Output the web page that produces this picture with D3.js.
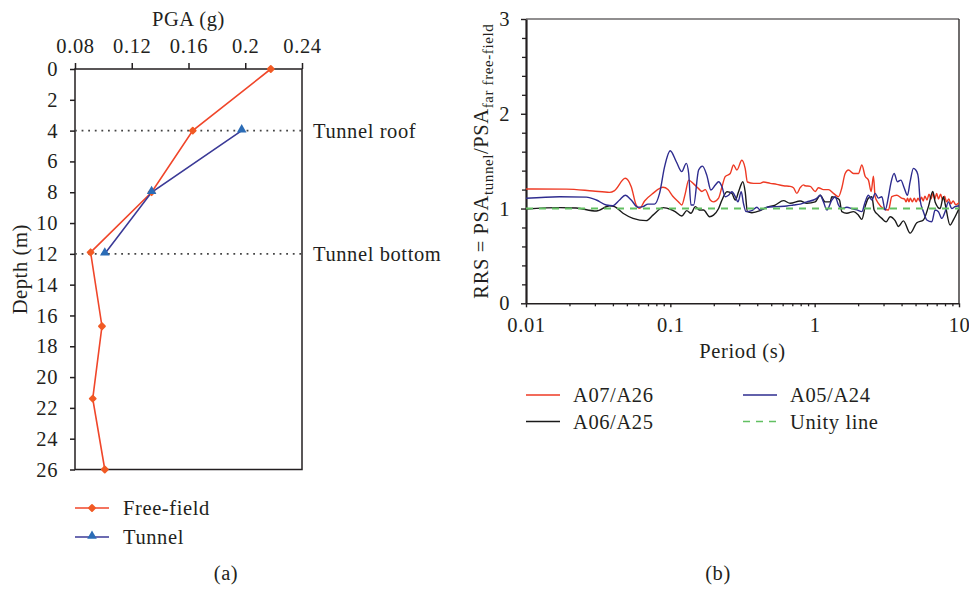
<!DOCTYPE html>
<html>
<head>
<meta charset="utf-8">
<script src="https://cdn.jsdelivr.net/npm/d3@7"></script>
<style>
  html, body { margin: 0; padding: 0; background: #ffffff; }
  svg { display: block; }
  text { font-family: "Liberation Serif", "Times New Roman", serif; fill: #231f20; letter-spacing: 0.6px; }
</style>
</head>
<body>
<svg id="chart" width="969" height="589"></svg>
<script>
// ---------- (a) PGA profile with depth ----------
const pgaTicks = [0.08, 0.12, 0.16, 0.2, 0.24];
const depthTicks = [0, 2, 4, 6, 8, 10, 12, 14, 16, 18, 20, 22, 24, 26];
const depthFree = [0, 4, 8, 11.9, 16.7, 21.4, 26];
const pgaFree = [0.218, 0.163, 0.134, 0.091, 0.099, 0.0925, 0.101];
const depthTunnel = [4, 8, 12];
const pgaTunnel = [0.1975, 0.134, 0.101];
const tunnelLevels = [
  { depth: 4, label: "Tunnel roof" },
  { depth: 12, label: "Tunnel bottom" }
];

// ---------- (b) response spectra ratios, [period (s), RRS] ----------
const periodTicks = [0.01, 0.1, 1, 10];
const rrsTicks = [0, 1, 2, 3];
const rrsA07 = [
  [0.01,1.206],[0.019,1.205],[0.0291,1.185],[0.0379,1.171],[0.0411,1.19],[0.0487,1.319],
  [0.0536,1.23],[0.058,1.037],[0.0612,1.002],[0.0663,1.08],[0.0758,1.16],[0.0889,1.224],
  [0.0963,1.2],[0.104,1.13],[0.114,1.07],[0.120,1.037],[0.127,1.16],[0.134,1.30],
  [0.145,1.26],[0.157,1.21],[0.1655,1.18],[0.1745,1.20],[0.189,1.09],[0.199,1.07],
  [0.216,1.11],[0.228,1.23],[0.240,1.336],[0.260,1.37],[0.274,1.459],[0.289,1.406],
  [0.313,1.51],[0.330,1.424],[0.342,1.28],[0.377,1.266],[0.419,1.266],[0.442,1.28],
  [0.492,1.266],[0.547,1.255],[0.608,1.24],[0.677,1.234],[0.713,1.22],[0.753,1.16],
  [0.794,1.22],[0.836,1.25],[0.860,1.24],[0.931,1.234],[1.008,1.18],[1.062,1.22],
  [1.151,1.20],[1.246,1.20],[1.350,1.16],[1.462,1.125],[1.543,1.22],[1.626,1.37],
  [1.714,1.406],[1.857,1.37],[2.011,1.37],[2.123,1.459],[2.237,1.34],[2.358,1.30],
  [2.462,1.18],[2.554,1.34],[2.624,1.125],[2.765,1.055],[2.996,1.0],[3.245,0.985],
  [3.425,1.125],[3.709,1.14],[4.0,1.11],[4.2,1.10],[4.3,1.07],[4.4,1.11],[4.5,1.07],
  [4.6,1.11],[4.75,1.07],[4.9,1.11],[5.05,1.07],[5.2,1.11],[5.35,1.08],[5.5,1.12],
  [5.65,1.08],[5.8,1.13],[6.0,1.09],[6.2,1.15],[6.4,1.10],[6.6,1.16],[6.8,1.10],
  [7.0,1.16],[7.2,1.10],[7.45,1.15],[7.7,1.09],[7.95,1.13],[8.2,1.07],[8.5,1.10],
  [8.8,1.05],[9.1,1.08],[9.5,1.04],[10,1.06]
];
const rrsA05 = [
  [0.01,1.108],[0.0171,1.125],[0.0262,1.12],[0.0307,1.09],[0.036,1.037],[0.040,1.03],
  [0.0445,1.09],[0.0487,1.14],[0.0536,1.09],[0.0596,1.013],[0.0646,1.02],[0.070,1.047],
  [0.0777,1.047],[0.0842,1.16],[0.0912,1.44],[0.0998,1.61],[0.110,1.494],[0.120,1.389],
  [0.129,1.477],[0.134,1.37],[0.139,1.037],[0.145,1.037],[0.157,1.406],[0.167,1.448],
  [0.179,1.35],[0.191,1.195],[0.205,1.248],[0.216,1.283],[0.228,1.23],[0.240,1.125],
  [0.253,1.14],[0.267,1.177],[0.282,1.125],[0.294,1.07],[0.310,1.177],[0.321,1.055],
  [0.335,0.967],[0.367,0.978],[0.398,1.013],[0.419,0.985],[0.467,1.013],[0.547,1.02],
  [0.642,1.027],[0.713,1.037],[0.794,1.047],[0.883,1.07],[0.981,1.09],[1.036,1.11],
  [1.092,1.14],[1.151,1.07],[1.215,0.985],[1.315,1.09],[1.387,1.125],[1.462,1.037],
  [1.543,1.0],[1.671,1.013],[1.810,1.0],[1.960,0.985],[2.123,0.967],[2.237,1.07],
  [2.358,1.14],[2.489,1.09],[2.624,1.16],[2.765,1.11],[2.920,1.125],[3.078,0.985],
  [3.245,1.125],[3.371,1.266],[3.553,1.37],[3.745,1.283],[3.954,1.30],[4.167,1.22],
  [4.392,1.14],[4.585,1.283],[4.833,1.424],[5.103,1.389],[5.234,1.32],[5.378,1.09],
  [5.668,0.967],[5.984,0.879],[6.481,0.86],[6.832,0.985],[7.201,0.967],[7.602,0.896],
  [8.013,0.967],[8.446,1.07],[8.917,1.0],[9.397,1.02],[10,1.03]
];
const rrsA06 = [
  [0.01,0.995],[0.0171,1.01],[0.0223,1.005],[0.0307,0.974],[0.0379,1.03],[0.0411,1.02],
  [0.047,0.95],[0.0551,0.897],[0.0681,0.872],[0.0758,0.93],[0.0889,1.01],[0.101,0.99],
  [0.108,0.967],[0.120,0.921],[0.130,0.978],[0.139,0.95],[0.149,1.02],[0.159,0.985],
  [0.170,0.985],[0.187,0.914],[0.199,0.93],[0.216,1.0],[0.228,1.09],[0.247,1.177],
  [0.267,1.16],[0.282,1.09],[0.297,1.177],[0.318,1.283],[0.330,1.177],[0.342,0.967],
  [0.367,0.956],[0.419,0.978],[0.467,1.013],[0.533,1.037],[0.608,1.083],[0.677,1.055],
  [0.794,1.08],[0.883,1.055],[1.008,1.07],[1.092,1.14],[1.182,1.07],[1.280,1.07],
  [1.315,1.125],[1.425,1.11],[1.485,1.09],[1.543,0.967],[1.671,0.95],[1.857,0.967],
  [2.011,0.93],[2.123,0.886],[2.237,1.02],[2.358,1.11],[2.489,1.125],[2.582,0.985],
  [2.765,0.93],[2.920,0.896],[3.128,0.86],[3.334,0.914],[3.610,0.872],[3.805,0.81],
  [4.121,0.87],[4.585,0.74],[5.103,0.85],[5.668,0.88],[6.139,1.02],[6.585,1.18],
  [6.832,1.07],[7.399,1.0],[7.798,1.125],[8.013,1.05],[8.678,0.826],[9.146,0.88],
  [9.656,0.95],[10,1.0]
];
const unityLevel = 1;

const spectraSeries = [
  { name: "A07/A26", data: rrsA07, color: "#ee3a24" },
  { name: "A06/A25", data: rrsA06, color: "#1a1a1a" },
  { name: "A05/A24", data: rrsA05, color: "#2e2c8f" }
];

const svg = d3.select("#chart");
const FONT = 20.5;
const FAMILY = '"Liberation Serif", "Times New Roman", serif';

// =====================================================================
// Panel (a)
// =====================================================================
const xL = d3.scaleLinear().domain([0.08, 0.24]).range([75, 302]);
const yL = d3.scaleLinear().domain([0, 26]).range([69, 469.5]);
const gA = svg.append("g");

// top PGA axis
const topAxis = gA.append("g")
  .attr("transform", `translate(0,${yL(0)})`)
  .call(d3.axisTop(xL).tickValues(pgaTicks).tickSize(6).tickSizeOuter(0)
    .tickPadding(10).tickFormat(d => String(d)));
// left depth axis
const leftAxis = gA.append("g")
  .attr("transform", `translate(${xL(0.08)},0)`)
  .call(d3.axisLeft(yL).tickValues(depthTicks).tickSize(5).tickSizeOuter(0)
    .tickPadding(12).tickFormat(d => String(d)));
[topAxis, leftAxis].forEach(a => {
  a.select(".domain").remove();
  a.selectAll("line").attr("stroke", "#231f20").attr("stroke-width", 1.5);
  a.selectAll("text").style("font-size", FONT + "px").attr("fill", "#231f20")
    .style("font-family", FAMILY);
});

// frame
gA.append("rect")
  .attr("x", xL(0.08)).attr("y", yL(0))
  .attr("width", xL(0.24) - xL(0.08)).attr("height", yL(26) - yL(0))
  .attr("fill", "none").attr("stroke", "#231f20").attr("stroke-width", 1.5);

// tunnel roof / bottom guides
tunnelLevels.forEach(t => {
  gA.append("line")
    .attr("x1", xL(0.08)).attr("x2", xL(0.24))
    .attr("y1", yL(t.depth)).attr("y2", yL(t.depth))
    .attr("stroke", "#444").attr("stroke-width", 1.8)
    .attr("stroke-dasharray", "1.8,4.8");
  gA.append("text")
    .attr("x", 313).attr("y", yL(t.depth) + 7)
    .style("font-size", FONT + "px").text(t.label);
});

const lineL = d3.line().x(d => xL(d[0])).y(d => yL(d[1]));
const freeData = pgaFree.map((p, i) => [p, depthFree[i]]);
const tunnelData = pgaTunnel.map((p, i) => [p, depthTunnel[i]]);
const FREE_LINE = "#f0462a", FREE_MARK = "#f15a24";
const TUN_LINE = "#3b3a97", TUN_MARK = "#2b6cb6";
// free-field marker: small rounded diamond (square turned 45 degrees)
const diamond = d3.symbol().type(d3.symbolSquare).size(18);
const triangle = d3.symbol().type(d3.symbolTriangle).size(40);

gA.append("path").datum(freeData).attr("d", lineL)
  .attr("fill", "none").attr("stroke", FREE_LINE).attr("stroke-width", 1.6);
gA.append("path").datum(tunnelData).attr("d", lineL)
  .attr("fill", "none").attr("stroke", TUN_LINE).attr("stroke-width", 1.6);
gA.selectAll(".mf").data(freeData).join("path").attr("class", "mf")
  .attr("d", diamond).attr("fill", FREE_MARK)
  .attr("stroke", FREE_MARK).attr("stroke-width", 1.8).attr("stroke-linejoin", "round")
  .attr("transform", d => `translate(${xL(d[0])},${yL(d[1])}) rotate(45)`);
gA.selectAll(".mt").data(tunnelData).join("path").attr("class", "mt")
  .attr("d", triangle).attr("fill", TUN_MARK)
  .attr("transform", d => `translate(${xL(d[0])},${yL(d[1]) - 1})`);

// axis titles
gA.append("text").attr("x", (xL(0.08) + xL(0.24)) / 2).attr("y", 26)
  .attr("text-anchor", "middle").style("font-size", FONT + "px").text("PGA (g)");
gA.append("text")
  .attr("transform", `translate(27,${(yL(0) + yL(26)) / 2}) rotate(-90)`)
  .attr("text-anchor", "middle").style("font-size", FONT + "px").text("Depth (m)");

// legend (a)
const legA = [
  { label: "Free-field", line: FREE_LINE, mark: FREE_MARK, sym: diamond, y: 508, free: true },
  { label: "Tunnel", line: TUN_LINE, mark: TUN_MARK, sym: triangle, y: 537, free: false }
];
legA.forEach(l => {
  gA.append("line").attr("x1", 75).attr("x2", 109).attr("y1", l.y).attr("y2", l.y)
    .attr("stroke", l.line).attr("stroke-width", 1.6);
  gA.append("path").attr("d", l.sym).attr("fill", l.mark)
    .attr("stroke", l.free ? l.mark : null).attr("stroke-width", 1.8)
    .attr("stroke-linejoin", "round")
    .attr("transform", l.free ? `translate(92,${l.y}) rotate(45)` : `translate(92,${l.y - 1})`);
  gA.append("text").attr("x", 123).attr("y", l.y + 7)
    .style("font-size", FONT + "px").text(l.label);
});
gA.append("text").attr("x", 226).attr("y", 580).attr("text-anchor", "middle")
  .style("font-size", FONT + "px").text("(a)");

// =====================================================================
// Panel (b)
// =====================================================================
const xR = d3.scaleLog().domain([0.01, 10]).range([526, 959]);
const yR = d3.scaleLinear().domain([0, 3]).range([303.3, 19]);
const gB = svg.append("g");

// frame top / right
gB.append("line").attr("x1", xR(0.01)).attr("x2", xR(10)).attr("y1", yR(3)).attr("y2", yR(3))
  .attr("stroke", "#231f20").attr("stroke-width", 1.1);
gB.append("line").attr("x1", xR(10)).attr("x2", xR(10)).attr("y1", yR(3)).attr("y2", yR(0))
  .attr("stroke", "#231f20").attr("stroke-width", 1.3);

// minor ticks
const minorPeriods = [];
[0.01, 0.1, 1].forEach(dec => { for (let k = 2; k <= 9; k++) minorPeriods.push(+(dec * k).toPrecision(3)); });
const minorRrs = d3.range(0, 3.001, 0.2).map(v => +v.toFixed(1)).filter(v => !rrsTicks.includes(v));

const xMinor = gB.append("g").attr("transform", `translate(0,${yR(0)})`)
  .call(d3.axisBottom(xR).tickValues(minorPeriods).tickSize(3).tickSizeOuter(0).tickFormat(""));
const yMinor = gB.append("g").attr("transform", `translate(${xR(0.01)},0)`)
  .call(d3.axisLeft(yR).tickValues(minorRrs).tickSize(4).tickSizeOuter(0).tickFormat(""));
[xMinor, yMinor].forEach(a => {
  a.select(".domain").remove();
  a.selectAll("line").attr("stroke", "#231f20").attr("stroke-width", 1.3);
});

const xAxisB = gB.append("g").attr("transform", `translate(0,${yR(0)})`)
  .call(d3.axisBottom(xR).tickValues(periodTicks).tickSize(4).tickSizeOuter(0)
    .tickPadding(10.5).tickFormat(d => String(d)));
const yAxisB = gB.append("g").attr("transform", `translate(${xR(0.01)},0)`)
  .call(d3.axisLeft(yR).tickValues(rrsTicks).tickSize(5).tickSizeOuter(0)
    .tickPadding(11).tickFormat(d => String(d)));
xAxisB.select(".domain").attr("stroke", "#231f20").attr("stroke-width", 1.6);
yAxisB.select(".domain").attr("stroke", "#231f20").attr("stroke-width", 2.2);
[xAxisB, yAxisB].forEach(a => {
  a.selectAll(".tick line").attr("stroke", "#231f20").attr("stroke-width", 1.4);
  a.selectAll("text").style("font-size", FONT + "px").attr("fill", "#231f20")
    .style("font-family", FAMILY);
});

// spectra ratio curves
gB.append("clipPath").attr("id", "clipB").append("rect")
  .attr("x", xR(0.01)).attr("y", yR(3)).attr("width", xR(10) - xR(0.01)).attr("height", yR(0) - yR(3));
const lineR = d3.line().x(d => xR(d[0])).y(d => yR(d[1])).curve(d3.curveMonotoneX);
const curves = gB.append("g").attr("clip-path", "url(#clipB)");
spectraSeries.forEach(s => {
  curves.append("path").datum(s.data).attr("d", lineR)
    .attr("fill", "none").attr("stroke", s.color).attr("stroke-width", 1.4)
    .attr("stroke-linejoin", "round");
});
const UNITY = "#62c062";
curves.append("line")
  .attr("x1", xR(0.01)).attr("x2", xR(10)).attr("y1", yR(unityLevel)).attr("y2", yR(unityLevel))
  .attr("stroke", UNITY).attr("stroke-width", 2).attr("stroke-dasharray", "7,6");

// axis titles
gB.append("text").attr("x", (xR(0.01) + xR(10)) / 2).attr("y", 358)
  .attr("text-anchor", "middle").style("font-size", FONT + "px").text("Period (s)");
const yTitle = gB.append("text")
  .attr("transform", `translate(488,${(yR(0) + yR(3)) / 2}) rotate(-90)`)
  .attr("text-anchor", "middle").style("font-size", FONT + "px");
yTitle.append("tspan").text("RRS = PSA");
yTitle.append("tspan").attr("dy", 5).style("font-size", "15px").text("tunnel");
yTitle.append("tspan").attr("dy", -5).text("/PSA");
yTitle.append("tspan").attr("dy", 5).style("font-size", "15px").text("far free-field");

// legend (b)
const legB = [
  { label: "A07/A26", color: "#ee3a24", x: 526, y: 395 },
  { label: "A05/A24", color: "#2e2c8f", x: 743, y: 395 },
  { label: "A06/A25", color: "#1a1a1a", x: 526, y: 421.5 },
  { label: "Unity line", color: UNITY, x: 743, y: 421.5, dash: true }
];
legB.forEach(l => {
  gB.append("line").attr("x1", l.x).attr("x2", l.x + 34).attr("y1", l.y).attr("y2", l.y)
    .attr("stroke", l.color).attr("stroke-width", l.dash ? 1.6 : 1.4)
    .attr("stroke-dasharray", l.dash ? "7,6" : null);
  gB.append("text").attr("x", l.x + 47).attr("y", l.y + 7)
    .style("font-size", FONT + "px").text(l.label);
});
gB.append("text").attr("x", 718).attr("y", 580).attr("text-anchor", "middle")
  .style("font-size", FONT + "px").text("(b)");
</script>
</body>
</html>
